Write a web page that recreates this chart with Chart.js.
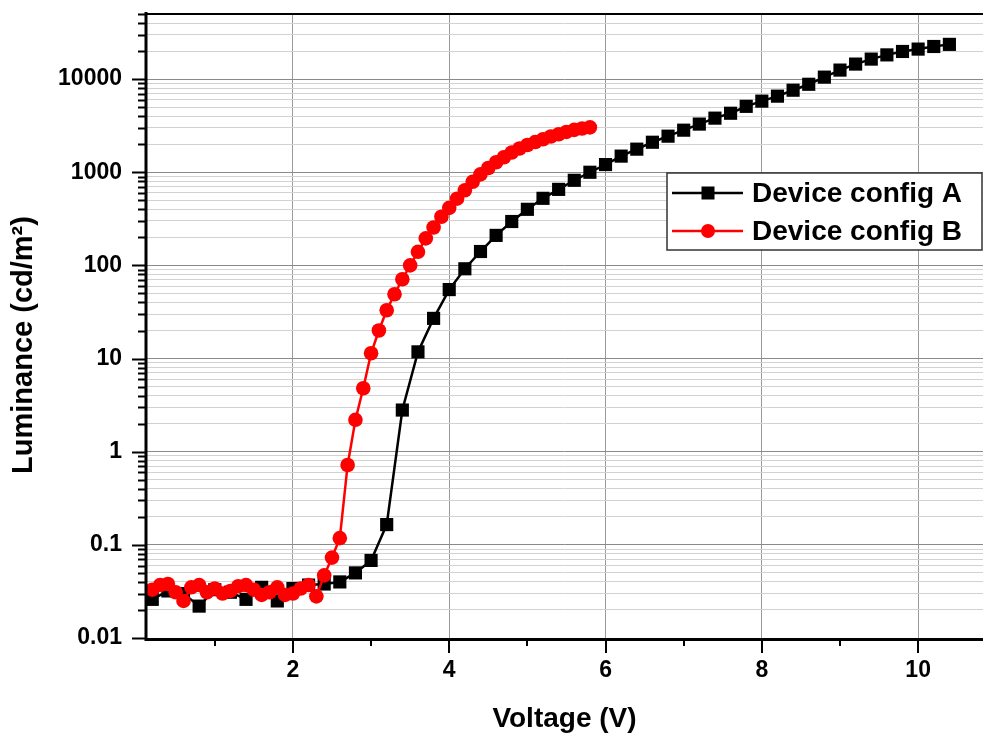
<!DOCTYPE html>
<html>
<head>
<meta charset="utf-8">
<script src="https://cdn.jsdelivr.net/npm/chart.js@4.4.0/dist/chart.umd.min.js"></script>
<style>
  html, body { margin: 0; padding: 0; background: #fff; }
  #wrap { width: 983px; height: 736px; }
</style>
</head>
<body>
<div id="wrap"><canvas id="myChart" width="983" height="736"></canvas></div>
<script>
// Device config A (black squares)
const voltageA = [0.2, 0.4, 0.6, 0.8, 1.0, 1.2, 1.4, 1.6, 1.8, 2.0, 2.2, 2.4, 2.6, 2.8, 3.0,
    3.2, 3.4, 3.6, 3.8, 4.0, 4.2, 4.4, 4.6, 4.8, 5.0, 5.2, 5.4, 5.6, 5.8, 6.0, 6.2, 6.4, 6.6, 6.8,
    7.0, 7.2, 7.4, 7.6, 7.8, 8.0, 8.2, 8.4, 8.6, 8.8, 9.0, 9.2, 9.4, 9.6, 9.8, 10.0, 10.2, 10.4];
const luminanceA = [0.026, 0.032, 0.030, 0.022, 0.033, 0.031, 0.026, 0.035, 0.025, 0.034, 0.037, 0.038, 0.040, 0.050, 0.068,
    0.165, 2.8, 11.8, 27, 55, 92, 141, 210, 296, 400, 525, 655, 820, 1000, 1210, 1490, 1770, 2100, 2440,
    2830, 3290, 3810, 4300, 5100, 5800, 6560, 7600, 8800, 10500, 12500, 14500, 16400, 18200, 19800, 21000, 22400, 23600];

// Device config B (red circles)
const voltageB = [0.2, 0.3, 0.4, 0.5, 0.6, 0.7, 0.8, 0.9, 1.0, 1.1, 1.2, 1.3, 1.4, 1.5, 1.6, 1.7, 1.8, 1.9, 2.0, 2.1, 2.2,
    2.3, 2.4, 2.5, 2.6, 2.7, 2.8, 2.9, 3.0, 3.1, 3.2, 3.3, 3.4, 3.5, 3.6, 3.7, 3.8, 3.9, 4.0,
    4.1, 4.2, 4.3, 4.4, 4.5, 4.6, 4.7, 4.8, 4.9, 5.0, 5.1, 5.2, 5.3, 5.4, 5.5, 5.6, 5.7, 5.8];
const luminanceB = [0.033, 0.037, 0.038, 0.031, 0.025, 0.035, 0.037, 0.031, 0.034, 0.030, 0.032, 0.036, 0.037, 0.033, 0.029, 0.031, 0.035, 0.029, 0.030, 0.034, 0.037,
    0.028, 0.047, 0.073, 0.118, 0.72, 2.2, 4.8, 11.4, 20, 33, 49, 71, 100, 140, 195, 255, 333, 415,
    520, 640, 790, 950, 1110, 1280, 1450, 1630, 1800, 1960, 2110, 2260, 2420, 2560, 2710, 2850, 2950, 3030];

const legendLabels = ['Device config A', 'Device config B'];
const xTickLabels = [2, 4, 6, 8, 10];
const xMinorTicks = [1, 3, 5, 7, 9];
const yTickLabels = [0.01, 0.1, 1, 10, 100, 1000, 10000];

const fontFamily = '"Liberation Sans", Arial, sans-serif';

function toPoints(xs, ys) {
    return xs.map((x, i) => ({ x: x, y: ys[i] }));
}

function isDecade(v) {
    return yTickLabels.some(d => Math.abs(v / d - 1) < 1e-6);
}

function yAllTicks(max) {
    const out = [];
    yTickLabels.forEach(d => {
        for (let m = 1; m <= 9; m++) {
            const v = parseFloat((d * m).toPrecision(3));
            if (v <= max) out.push(v);
        }
    });
    return out;
}

// axes frame + tick marks, drawn like the original plot
const framePlugin = {
    id: 'frame',
    afterDatasetsDraw(chart) {
        const ctx = chart.ctx, a = chart.chartArea;
        const xs = chart.scales.x, ys = chart.scales.y;
        ctx.save();
        ctx.strokeStyle = '#000';
        ctx.lineWidth = 2;
        ctx.beginPath();
        ys.ticks.forEach(t => {
            const py = Math.round(ys.getPixelForValue(t.value)) + 0.5;
            const len = isDecade(t.value) ? 14 : 8;
            ctx.moveTo(a.left - len, py);
            ctx.lineTo(a.left, py);
        });
        xs.ticks.forEach(t => {
            const px = Math.round(xs.getPixelForValue(t.value));
            const len = xTickLabels.includes(t.value) ? 15 : 8;
            ctx.moveTo(px, a.bottom);
            ctx.lineTo(px, a.bottom + len);
        });
        ctx.stroke();

        ctx.lineWidth = 3;
        ctx.beginPath();
        ctx.moveTo(a.left, a.top - 2);
        ctx.lineTo(a.left, a.bottom + 1.5);
        ctx.lineTo(a.right, a.bottom + 1.5);
        ctx.stroke();
        ctx.lineWidth = 2;
        ctx.beginPath();
        ctx.moveTo(a.left, a.top);
        ctx.lineTo(a.right, a.top);
        ctx.stroke();
        ctx.restore();
    },
    afterDraw(chart) {
        const ctx = chart.ctx;
        ctx.save();
        // y title
        ctx.fillStyle = '#000';
        ctx.font = 'bold 29px ' + fontFamily;
        ctx.textAlign = 'center';
        ctx.textBaseline = 'middle';
        ctx.translate(24, 345);
        ctx.rotate(-Math.PI / 2);
        ctx.fillText('Luminance (cd/m²)', 0, 0);
        ctx.restore();

        // legend box
        ctx.save();
        const bx = 667, by = 173, bw = 315, bh = 77;
        ctx.fillStyle = '#fff';
        ctx.fillRect(bx, by, bw, bh);
        ctx.strokeStyle = '#333';
        ctx.lineWidth = 1.5;
        ctx.strokeRect(bx, by, bw, bh);
        const rows = [193, 231];
        const colors = ['#000000', '#ff0000'];
        rows.forEach((ry, i) => {
            ctx.strokeStyle = colors[i];
            ctx.fillStyle = colors[i];
            ctx.lineWidth = 2.5;
            ctx.beginPath();
            ctx.moveTo(672, ry);
            ctx.lineTo(743, ry);
            ctx.stroke();
            ctx.beginPath();
            if (i === 0) {
                ctx.rect(708 - 6.5, ry - 6.5, 13, 13);
            } else {
                ctx.arc(708, ry, 7, 0, Math.PI * 2);
            }
            ctx.fill();
            ctx.fillStyle = '#000';
            ctx.font = 'bold 28px ' + fontFamily;
            ctx.textAlign = 'left';
            ctx.textBaseline = 'middle';
            ctx.fillText(legendLabels[i], 752, ry + 1);
        });
        ctx.restore();
    }
};

const ctx = document.getElementById('myChart').getContext('2d');
const myChart = new Chart(ctx, {
    type: 'line',
    data: {
        datasets: [{
            label: legendLabels[0],
            data: toPoints(voltageA, luminanceA),
            borderColor: '#000000',
            backgroundColor: '#000000',
            borderWidth: 2.5,
            pointStyle: 'rect',
            pointRadius: 9.3,
            pointBorderWidth: 0,
            tension: 0,
            clip: false,
            order: 2
        }, {
            label: legendLabels[1],
            data: toPoints(voltageB, luminanceB),
            borderColor: '#ff0000',
            backgroundColor: '#ff0000',
            borderWidth: 2.5,
            pointStyle: 'circle',
            pointRadius: 7.3,
            pointBorderWidth: 0,
            tension: 0,
            clip: false,
            order: 1
        }]
    },
    options: {
        responsive: false,
        animation: false,
        devicePixelRatio: 1,
        layout: { autoPadding: false, padding: { top: 14, right: 0, left: 0, bottom: 0 } },
        plugins: {
            legend: { display: false },
            tooltip: { enabled: false }
        },
        scales: {
            x: {
                type: 'linear',
                min: 0.12,
                max: 10.83,
                afterBuildTicks: scale => {
                    scale.ticks = xMinorTicks.concat(xTickLabels).sort((a, b) => a - b).map(v => ({ value: v }));
                },
                afterFit: scale => {
                    scale.height = 98;
                    scale.paddingLeft = 0;
                    scale.paddingRight = 0;
                },
                grid: {
                    color: c => xTickLabels.includes(c.tick.value) ? '#9a9a9a' : 'rgba(0,0,0,0)',
                    lineWidth: 1,
                    drawTicks: false
                },
                border: { display: false },
                ticks: {
                    autoSkip: false,
                    maxRotation: 0,
                    padding: 19,
                    color: '#000',
                    font: { family: fontFamily, size: 23, weight: 'bold' },
                    callback: v => xTickLabels.includes(v) ? String(v) : ''
                },
                title: {
                    display: true,
                    text: 'Voltage (V)',
                    color: '#000',
                    font: { family: fontFamily, size: 28, weight: 'bold' },
                    padding: { top: 0, bottom: 0 }
                }
            },
            y: {
                type: 'logarithmic',
                min: 0.01,
                max: 50000,
                afterBuildTicks: scale => {
                    scale.ticks = yAllTicks(50000).map(v => ({ value: v }));
                },
                afterFit: scale => {
                    scale.width = 146;
                    scale.paddingTop = 0;
                    scale.paddingBottom = 0;
                },
                grid: {
                    color: c => isDecade(c.tick.value) ? '#8a8a8a' : '#d2d2d2',
                    lineWidth: 1,
                    drawTicks: false
                },
                border: { display: false },
                ticks: {
                    autoSkip: false,
                    padding: 24,
                    color: '#000',
                    font: { family: fontFamily, size: 23, weight: 'bold' },
                    callback: v => isDecade(v) ? String(yTickLabels.find(d => Math.abs(v / d - 1) < 1e-6)) : ''
                }
            }
        }
    },
    plugins: [framePlugin]
});
</script>
</body>
</html>
